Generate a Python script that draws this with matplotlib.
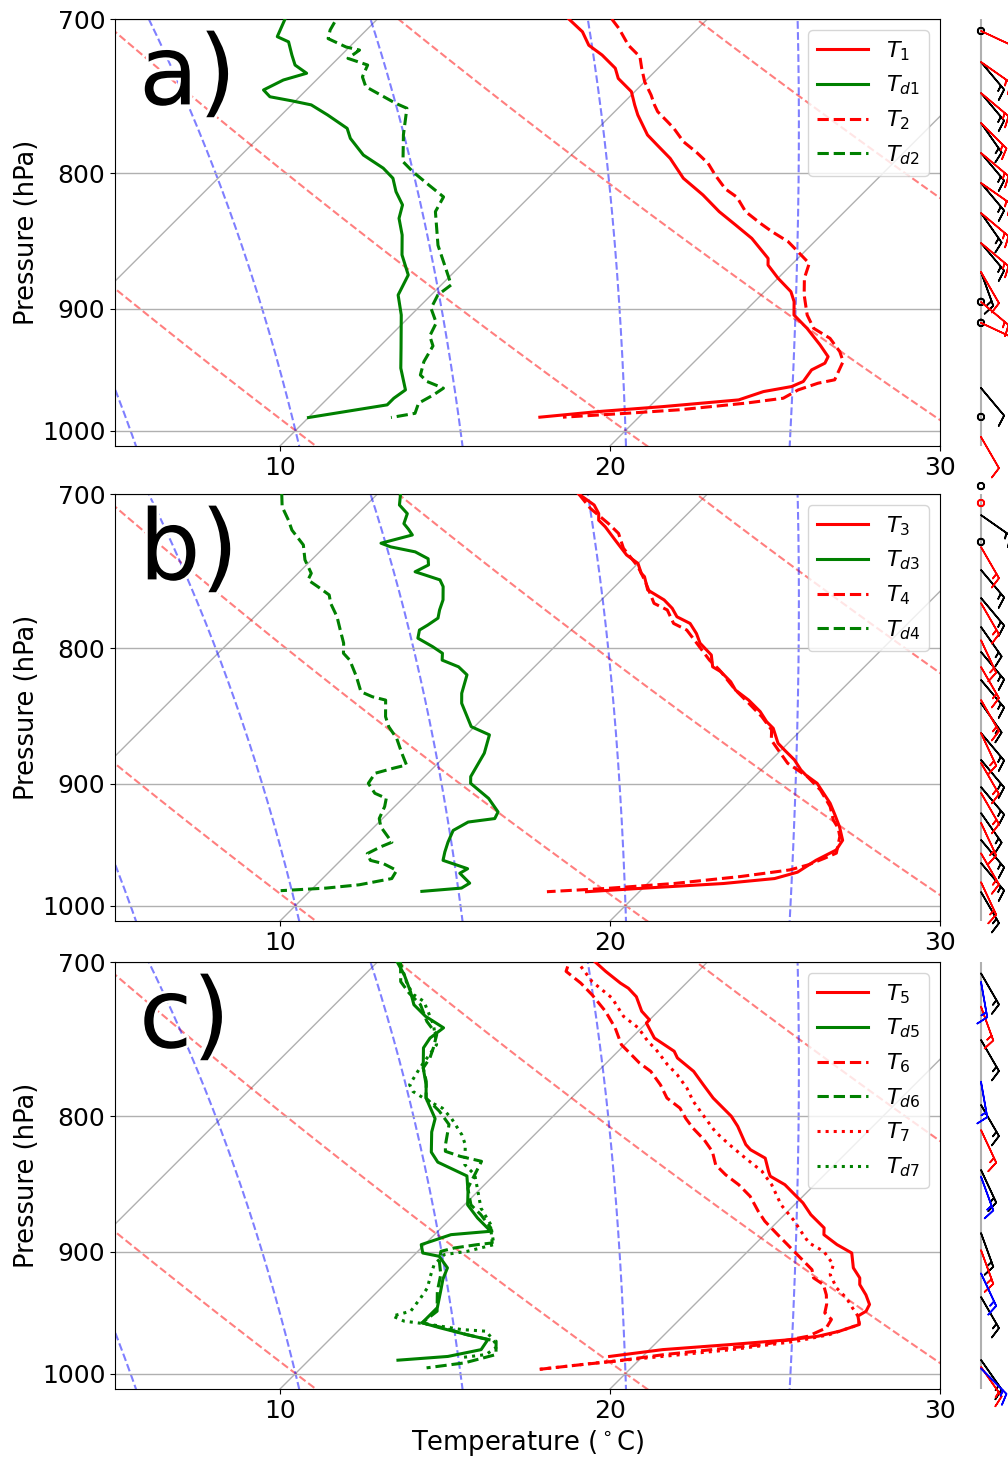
import numpy as np
import matplotlib
matplotlib.use('Agg')
import matplotlib.pyplot as plt
import matplotlib.patheffects as pe
from matplotlib.ticker import NullLocator, FixedLocator, FixedFormatter

plt.rcParams['font.size'] = 18

# - - - - - - - - - - - - - - - - - - - - - - - - - - - - - - - - - - - - - - - -
# soundings: rows of (pressure hPa, temperature degC)

T1 = np.array([(700, 5.8), (707.8, 6.6), (716.1, 7.2), (722.2, 7.9), (730.5, 8.7), (737, 9.1), (745.5, 9.9),
               (754.1, 10.4), (760.7, 10.8), (774, 11.7), (780.8, 12.3), (789.9, 13.1), (803.6, 14.1),
               (815.3, 15.2), (827.2, 16.2), (836.8, 17.1), (846.6, 18.0), (861.4, 19.1), (866.4, 19.3),
               (876.3, 20.0), (886.6, 20.8), (894.3, 21.2), (904.7, 21.6), (915.2, 22.4), (928.5, 23.3),
               (938, 23.9), (943.3, 24.0), (948.8, 23.8), (958.4, 23.9), (962.6, 23.7), (966.8, 23.0),
               (973.8, 22.5), (979.5, 20.4), (983.7, 18.6), (988.5, 17.0)])
TD1 = np.array([(700, -2.8), (710.8, -2.5), (714, -2.0), (722.2, -1.5), (728.5, -1.1), (733.7, -0.5), (738, -1.0),
                (744.4, -1.3), (748.8, -0.9), (751.5, -0.1), (754.1, 0.6), (760.7, 1.4), (769.6, 2.4),
                (776.3, 2.8), (787.6, 3.7), (796.6, 4.7), (803.6, 5.3), (813, 5.8), (822.4, 6.4), (832, 6.7),
                (844.1, 7.3), (858.8, 7.9), (873.9, 8.7), (889.2, 9.0), (904.7, 9.7), (931.1, 10.7),
                (947.4, 11.3), (965.4, 12.1), (972.4, 12.0), (978, 12.0), (988.8, 10.0)])
T2 = np.array([(700, 7.1), (705.7, 7.6), (716.1, 8.4), (723.3, 9.1), (730.5, 9.5), (739.1, 10.0), (747.7, 10.6),
               (754.1, 11.0), (758.5, 11.3), (765.1, 11.9), (769.6, 12.3), (778.6, 13.0), (785.6, 13.7),
               (793.3, 14.4), (801.8, 15.0), (811.1, 15.7), (816.9, 16.3), (827.2, 17.0), (835.6, 17.8),
               (841.6, 18.4), (849, 19.2), (856.4, 19.8), (865.2, 20.5), (876.3, 20.8), (889.1, 21.3),
               (904.7, 22.0), (915.2, 22.6), (923.2, 23.4), (933.9, 24.1), (941.9, 24.5), (957, 24.8),
               (959.8, 24.4), (965.4, 24.0), (972.4, 23.8), (976.6, 22.8), (982.2, 21.0), (985, 19.6),
               (988.5, 17.7)])
TD2 = np.array([(702, -1.2), (706.7, -1.1), (712, -0.9), (717.2, -0.1), (719.1, 0.4), (724.3, 0.3), (728.5, 1.1),
                (736, 1.3), (742.3, 1.7), (753, 3.1), (756.3, 3.6), (773.9, 4.3), (792.1, 5.1), (799, 5.7),
                (808.4, 6.6), (816.7, 7.4), (827.2, 7.6), (851.7, 8.7), (866.4, 9.5), (881.4, 10.3),
                (889.1, 10.2), (899.5, 10.4), (910.9, 11.0), (921.3, 11.2), (929.3, 11.6), (942, 11.8),
                (953, 12.1), (958.4, 12.5), (964, 13.2), (969.6, 13.1), (976.6, 12.9), (985.2, 13.1),
                (988.8, 12.5)])

T3 = np.array([(700, 6.1), (706.7, 6.9), (712, 7.3), (716.1, 7.5), (720.2, 7.9), (728.5, 8.6), (738, 9.4),
               (743.4, 10.0), (749.8, 10.4), (752, 10.6), (760.7, 11.1), (767.3, 11.9), (772.9, 12.4),
               (778.6, 12.8), (783.1, 13.4), (790, 13.9), (796.6, 14.3), (804.8, 15.0), (813.1, 15.4),
               (816.6, 15.8), (823.7, 16.4), (829.7, 16.8), (836.9, 17.5), (845.3, 18.2), (852.7, 18.7),
               (857.6, 19.1), (868.8, 19.7), (873.9, 20.1), (881.4, 20.7), (889.1, 21.2), (893, 21.5),
               (899.5, 22.1), (915.2, 23.1), (924.5, 23.6), (934.1, 24.1), (945, 24.6), (953, 24.7),
               (961.6, 24.4), (971.5, 24.2), (976.9, 23.7), (981.1, 22.3), (985.3, 19.9), (988.1, 18.4)])
TD3 = np.array([(700, 0.7), (706.7, 1.0), (712, 1.5), (718.2, 1.7), (721.6, 2.0), (725.3, 2.3), (730.5, 1.6),
                (732.8, 2.0), (736, 2.9), (740.4, 3.5), (744.4, 3.7), (748.8, 3.5), (750.9, 3.9), (754.1, 4.5),
                (758.5, 4.8), (767.3, 5.2), (774, 5.4), (779.5, 5.6), (784.2, 5.5), (787.6, 5.4), (793.2, 5.6),
                (799, 6.3), (803.6, 6.8), (808.4, 7.0), (813.1, 7.7), (818.8, 8.2), (832, 8.6), (839.2, 8.9),
                (856.4, 9.9), (862.5, 10.7), (876.3, 11.1), (894.3, 11.4), (899.5, 11.6), (911.3, 12.6),
                (922.1, 13.3), (927.4, 13.4), (930.2, 12.7), (937, 12.5), (946.6, 12.7), (954.6, 12.9),
                (961.6, 13.1), (968.6, 14.1), (972.4, 14.0), (980.8, 14.6), (985, 14.5), (987.8, 13.4)])
T4 = np.array([(700, 6.1), (708.9, 6.9), (718.2, 7.9), (724.3, 8.5), (733.7, 9.1), (745.5, 10.1), (754.1, 10.7),
               (769.6, 11.7), (774, 12.3), (783.1, 12.9), (787.6, 13.5), (796.6, 14.2), (808.4, 15.1),
               (815.3, 15.7), (829.7, 16.8), (839.2, 17.6), (849, 18.4), (858.8, 19.1), (866.4, 19.4),
               (875.2, 20.0), (884, 20.6), (889.1, 21.1), (894.3, 21.6), (904.7, 22.4), (917.8, 23.2),
               (928.5, 23.7), (935.2, 24.1), (941.9, 24.4), (955.6, 24.8), (959.8, 24.6), (965.4, 24.3),
               (969.6, 23.9), (975.2, 22.6), (981.1, 20.8), (985.3, 18.9), (988.1, 17.2)])
TD4 = np.array([(700, -2.9), (707.8, -2.5), (716.1, -1.9), (722.2, -1.5), (731.6, -0.7), (741.1, -0.2),
                (749.8, 0.4), (754.1, 0.5), (758.5, 1.0), (764, 1.6), (769.6, 1.9), (778.6, 2.5), (787.6, 3.0),
                (796.6, 3.5), (803.6, 3.8), (808.4, 4.2), (820, 4.9), (830.9, 5.5), (834.5, 6.0), (836.9, 6.5),
                (849, 7.0), (856.4, 7.4), (865.2, 8.0), (876.3, 8.6), (885.3, 9.1), (887.8, 8.8), (891.7, 8.4),
                (899.5, 8.5), (907.3, 9.0), (911.3, 9.5), (917.8, 9.7), (927.4, 9.9), (934.1, 10.2),
                (941.9, 10.7), (946.6, 11.0), (950.4, 10.8), (956, 10.6), (961.6, 10.9), (964.4, 11.4),
                (970, 12.0), (976.9, 12.1), (982.2, 11.3), (985, 10.4), (987.2, 9.1)])

T5 = np.array([(700, 6.6), (705.7, 7.2), (712.9, 8.0), (716.1, 8.4), (721.4, 8.9), (730.5, 9.5), (736, 10.0),
               (738, 10.0), (747.7, 10.7), (756.3, 11.7), (760.7, 12.0), (769.6, 12.9), (778.6, 13.6),
               (787.6, 14.3), (800.1, 15.4), (807.1, 15.9), (820, 16.7), (823.7, 17.0), (829.7, 17.7),
               (839.2, 18.2), (842.8, 18.4), (849, 19.1), (857.6, 19.8), (862.5, 20.2), (871.4, 20.8),
               (881.4, 21.6), (886.6, 21.8), (894.3, 22.5), (900.8, 23.2), (912.5, 23.7), (920.5, 24.2),
               (925.8, 24.4), (934.1, 24.9), (941.9, 25.3), (947.4, 25.4), (951.4, 25.3), (958.4, 25.6),
               (964, 25.2), (968.2, 24.7), (971, 24.0), (975.2, 22.3), (979.5, 20.4), (985.3, 19.0)])
TD5 = np.array([(700, 0.6), (707.8, 1.2), (718.2, 1.9), (726.4, 2.4), (733.7, 3.1), (741.1, 4.0), (747.7, 3.9),
                (754.1, 4.0), (767.3, 4.6), (778.6, 5.2), (787.6, 5.6), (801.8, 6.5), (811.1, 6.8),
                (825.4, 7.4), (832.6, 7.9), (842.6, 9.2), (853.9, 9.7), (864, 10.1), (873.9, 10.8),
                (884, 11.6), (886.6, 10.5), (894.3, 9.9), (900.8, 10.2), (903.4, 10.8), (912.5, 11.4),
                (921.3, 11.6), (931.1, 11.9), (944.5, 12.3), (957, 12.3), (961.2, 13.0), (966.8, 14.0),
                (971, 14.8), (979.5, 14.9), (985.3, 14.1), (988.5, 12.7)])
T6 = np.array([(702.7, 5.9), (705.7, 6.0), (712.9, 6.8), (720.2, 7.5), (730.5, 8.4), (741.1, 9.2), (752, 9.9),
               (758.5, 10.5), (764, 11.0), (769.6, 11.6), (778.6, 12.3), (787.6, 12.9), (794.5, 13.6),
               (801.8, 14.1), (808.4, 14.6), (816.7, 15.3), (825, 15.9), (834.5, 16.4), (841.7, 17.0),
               (849, 17.7), (857.6, 18.4), (868.8, 19.1), (876.3, 19.6), (886.6, 20.4), (894.3, 21.0),
               (899.5, 21.4), (907.3, 22.0), (913.9, 22.5), (920.5, 22.8), (925.8, 23.3), (934.1, 23.7),
               (941.9, 24.0), (948.8, 24.2), (954.2, 24.6), (961.2, 24.7), (968.2, 24.4), (975.2, 23.3),
               (979.5, 21.9), (983.7, 20.6), (989.4, 19.3), (992.3, 18.4), (996.6, 17.2)])
TD6 = np.array([(700, 0.7), (712, 1.3), (719.1, 1.9), (726.4, 2.6), (737, 3.3), (745.5, 4.0), (754.1, 4.3),
                (760.7, 4.5), (767.3, 4.6), (776.3, 5.1), (787.6, 5.6), (796.6, 6.4), (805.9, 7.1),
                (820, 7.6), (824.8, 7.8), (828.4, 8.4), (832, 9.2), (841.7, 9.4), (851.6, 9.6), (864, 10.2),
                (871.4, 10.8), (881.4, 11.5), (893, 12.0), (894.3, 11.6), (896.9, 11.0), (899.5, 10.7),
                (906, 10.9), (917.8, 11.4), (931.1, 11.8), (947.4, 12.4), (957, 12.3), (961.2, 13.1),
                (966.8, 14.0), (972.4, 15.1), (983.7, 15.5), (990.8, 14.8), (995.1, 13.8)])
T7 = np.array([(702.7, 6.3), (712, 7.1), (722.2, 8.2), (733.7, 9.1), (741.1, 9.9), (749.8, 10.6), (755.2, 11.1),
               (765.1, 11.9), (771.8, 12.5), (780.8, 13.2), (789.9, 13.8), (801.8, 14.7), (811.1, 15.4),
               (820, 16.2), (829.7, 17.1), (839.2, 18.0), (849, 18.7), (864, 19.6), (876.3, 20.5), (884, 21.0),
               (893, 21.6), (899.5, 22.3), (910, 23.0), (917.8, 23.2), (928.5, 23.8), (936.6, 24.4),
               (944.9, 24.9), (951.4, 25.3), (958.4, 25.6), (966.8, 25.0), (972.4, 24.2), (979.5, 22.5),
               (985.3, 20.6), (990.8, 18.8), (996.6, 17.2)])
TD7 = np.array([(701.7, 0.8), (714, 1.6), (720.2, 2.1), (724.3, 2.6), (739.1, 3.6), (752, 4.3), (767.3, 4.5),
                (778.6, 4.7), (783.1, 5.0), (790, 5.8), (794.5, 6.4), (801.8, 7.0), (813.1, 7.8), (820, 8.2),
                (834.5, 8.8), (841.7, 9.4), (853.9, 10.0), (866.4, 10.6), (878.9, 11.4), (894.3, 12.1),
                (899.5, 11.5), (902.1, 10.9), (910, 10.9), (917.8, 11.1), (928.5, 11.4), (936.6, 11.5),
                (947.4, 11.6), (951.4, 11.2), (955.6, 11.7), (958.4, 12.6), (962.6, 13.7), (964, 14.5),
                (976.6, 15.3), (983.7, 15.2), (986.4, 14.5)])

# wind barbs: pressure (hPa), speed (kt), direction (deg)
BARB_P_A1 = [707.3, 726.6, 746.4, 766, 786.2, 806.9, 828.2, 850, 871.6, 894.5, 910.9, 963.8, 988.3]
BARB_S_A1 = [0, 15, 15, 15, 15, 15, 15, 15, 15, 0, 0, 10, 0]
BARB_D_A1 = [0, 140, 140, 145, 140, 140, 145, 140, 160, 0, 0, 140, 0]
BARB_P_A2 = [707.3, 726.6, 746.4, 766, 786.2, 806.9, 828.2, 850, 871.6, 894.5, 910.9, 1005.6]
BARB_S_A2 = [15, 15, 15, 15, 15, 15, 15, 15, 10, 15, 10, 10]
BARB_D_A2 = [115, 125, 130, 135, 130, 125, 130, 130, 150, 130, 115, 150]

BARB_P_B1 = [695.2, 712.9, 729.7, 747.6, 766, 785.5, 802.7, 822.4, 839, 861.1, 881.4, 902.4, 923, 944.7, 963.8, 988.3]
BARB_S_B1 = [0, 15, 0, 15, 15, 15, 15, 15, 15, 15, 15, 15, 15, 15, 15, 15]
BARB_D_B1 = [0, 125, 0, 140, 140, 145, 140, 140, 145, 140, 140, 140, 145, 140, 140, 150]
BARB_P_B2 = [705.5, 732.9, 769.4, 794.5, 813.2, 836.8, 861.1, 883.7, 907, 930.8, 955.7, 979.9]
BARB_S_B2 = [0, 15, 15, 15, 15, 15, 15, 15, 15, 15, 15, 15]
BARB_D_B2 = [0, 150, 150, 155, 150, 150, 155, 150, 150, 155, 150, 155]

BARB_P_C1 = [706.9, 748.9, 792.3, 838.2, 885.3, 935.8, 988.3]
BARB_S_C1 = [15, 15, 15, 15, 15, 15, 15]
BARB_D_C1 = [150, 150, 150, 155, 160, 150, 145]
BARB_P_C2 = [727.6, 809.7, 898.5, 994.3]
BARB_S_C2 = [15, 15, 15, 15]
BARB_D_C2 = [160, 155, 160, 145]
BARB_P_C3 = [712.1, 776.5, 843.1, 916.8, 995.6]
BARB_S_C3 = [15, 15, 15, 15, 15]
BARB_D_C3 = [170, 170, 160, 155, 135]

MOIST_T0 = [0, 5, 10, 15, 20, 25, 30]
DRY_T0 = list(range(-30, 200, 10))
ISOTHERMS = list(range(-40, 50, 10))

# - - - - - - - - - - - - - - - - - - - - - - - - - - - - - - - - - - - - - - - -

PB = 1013.5   # bottom pressure
PT = 700.0
K = 35.0      # skew: degC per ln(p)


def skew(t, p):
    return np.asarray(t, dtype=float) + K * np.log(PB / np.asarray(p, dtype=float))


def moist_adiabat(t0):
    rd, cp, lv, eps = 287.04749, 1004.6662, 2.50084e6, 0.62198

    def f(p, t):
        es = 6.112 * np.exp(17.67 * (t - 273.15) / (t - 29.65))
        rs = eps * es / (p - es)
        return (rd * t + lv * rs) / (cp + lv * lv * rs * eps / (rd * t * t)) / p

    res = []
    for dp in (-2.0, 2.0):
        p, t = 1000.0, t0 + 273.15
        ps, ts = [p], [t]
        while 640 < p < 1060:
            k1 = f(p, t)
            k2 = f(p + dp / 2, t + dp / 2 * k1)
            k3 = f(p + dp / 2, t + dp / 2 * k2)
            k4 = f(p + dp, t + dp * k3)
            t += dp * (k1 + 2 * k2 + 2 * k3 + k4) / 6
            p += dp
            ps.append(p)
            ts.append(t)
        res.append((ps, ts))
    ps = res[0][0][::-1] + res[1][0][1:]
    ts = res[0][1][::-1] + res[1][1][1:]
    return np.array(ps), np.array(ts) - 273.15


def background(ax):
    pp = np.linspace(1060, 640, 200)
    for t0 in ISOTHERMS:
        ax.plot(skew(np.full_like(pp, t0), pp), pp, color='#b0b0b0', lw=1, zorder=1)
    for t0 in DRY_T0:
        t = (t0 + 273.15) * (pp / 1000.0) ** 0.2857 - 273.15
        ax.plot(skew(t, pp), pp, color='r', ls='--', alpha=0.5, lw=1.5, zorder=1)
    for t0 in MOIST_T0:
        p, t = moist_adiabat(t0)
        ax.plot(skew(t, p), p, color='b', ls='--', alpha=0.5, lw=1.5, zorder=1)


def barb_column(bax, groups):
    bax.set_yscale('log')
    bax.set_ylim(PB, PT)
    bax.set_xlim(-0.534, 0.466)
    bax.axis('off')
    bax.axvline(0, color='#b0b0b0', lw=1.5, zorder=0)
    for p, s, d, c in groups:
        s = np.asarray(s, dtype=float)
        d = np.deg2rad(np.asarray(d, dtype=float))
        u = -s * np.sin(d)
        v = -s * np.cos(d)
        bax.barbs(np.zeros(len(p)), p, u, v, color=c, length=7.2, linewidth=1.2,
                  sizes=dict(emptybarb=0.09, height=0.3, spacing=0.14), clip_on=False)


def panel(ax, bax, curves, letter, barbs, xlabel=False):
    background(ax)
    for data, color, ls, label in curves:
        ax.plot(skew(data[:, 1], data[:, 0]), data[:, 0], color=color, ls=ls, lw=2.2, label=label, zorder=3)
    ax.set_yscale('log')
    ax.set_ylim(PB, PT)
    ax.yaxis.set_major_locator(FixedLocator([700, 800, 900, 1000]))
    ax.yaxis.set_major_formatter(FixedFormatter(['700', '800', '900', '1000']))
    ax.yaxis.set_minor_locator(NullLocator())
    ax.yaxis.grid(True, color='#b0b0b0', lw=1)
    ax.set_xlim(5, 30)
    ax.set_xticks([10, 20, 30])
    ax.set_ylabel('Pressure (hPa)', fontsize=18.5, labelpad=1)
    if xlabel:
        ax.set_xlabel('Temperature ($^\\circ$C)', fontsize=18.5)
    ax.legend(loc='upper right', fontsize=16, handlelength=2.3)
    ax.text(0.029, 0.80, letter, transform=ax.transAxes, fontsize=70, ha='left', va='baseline',
            zorder=10, path_effects=[pe.withStroke(linewidth=4, foreground='w')])
    barb_column(bax, barbs)


fig = plt.figure(figsize=(10.08, 14.57), dpi=100)
W, H = 1008.0, 1457.0
left, width = 115 / W, 825 / W
height = 427 / H
tops = [19, 494, 962]

axes = []
for top in tops:
    ax = fig.add_axes([left, 1 - (top + 427) / H, width, height])
    bax = fig.add_axes([950 / W, 1 - (top + 427) / H, 58 / W, height])
    axes.append((ax, bax))

panel(axes[0][0], axes[0][1],
      [(T1, 'r', '-', '$T_1$'), (TD1, 'g', '-', '$T_{d1}$'),
       (T2, 'r', '--', '$T_2$'), (TD2, 'g', '--', '$T_{d2}$')], 'a)',
      [(BARB_P_A1, BARB_S_A1, BARB_D_A1, 'k'), (BARB_P_A2, BARB_S_A2, BARB_D_A2, 'r')])
panel(axes[1][0], axes[1][1],
      [(T3, 'r', '-', '$T_3$'), (TD3, 'g', '-', '$T_{d3}$'),
       (T4, 'r', '--', '$T_4$'), (TD4, 'g', '--', '$T_{d4}$')], 'b)',
      [(BARB_P_B1, BARB_S_B1, BARB_D_B1, 'k'), (BARB_P_B2, BARB_S_B2, BARB_D_B2, 'r')])
panel(axes[2][0], axes[2][1],
      [(T5, 'r', '-', '$T_5$'), (TD5, 'g', '-', '$T_{d5}$'),
       (T6, 'r', '--', '$T_6$'), (TD6, 'g', '--', '$T_{d6}$'),
       (T7, 'r', ':', '$T_7$'), (TD7, 'g', ':', '$T_{d7}$')], 'c)',
      [(BARB_P_C1, BARB_S_C1, BARB_D_C1, 'k'), (BARB_P_C2, BARB_S_C2, BARB_D_C2, 'r'),
       (BARB_P_C3, BARB_S_C3, BARB_D_C3, 'b')], xlabel=True)

plt.savefig('out.png', dpi=100)
